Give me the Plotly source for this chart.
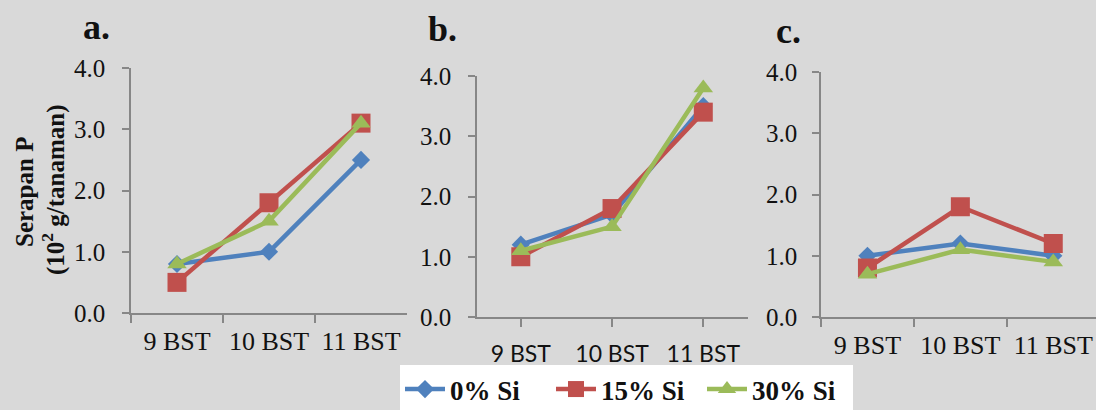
import plotly.graph_objects as go

W, H = 1096, 410
categories = ["9 BST", "10 BST", "11 BST"]
series_names = ["0% Si", "15% Si", "30% Si"]
panel_a = {"0% Si": [0.8, 1.0, 2.5], "15% Si": [0.5, 1.8, 3.1], "30% Si": [0.8, 1.5, 3.1]}
panel_b = {"0% Si": [1.2, 1.7, 3.5], "15% Si": [1.0, 1.8, 3.4], "30% Si": [1.1, 1.5, 3.8]}
panel_c = {"0% Si": [1.0, 1.2, 1.0], "15% Si": [0.8, 1.8, 1.2], "30% Si": [0.7, 1.1, 0.9]}
y_ticks = [0, 1, 2, 3, 4]
y_tick_labels = ["0.0", "1.0", "2.0", "3.0", "4.0"]

colors = {"0% Si": "#4f81bd", "15% Si": "#c0504d", "30% Si": "#9bbb59"}
symbols = {"0% Si": "diamond", "15% Si": "square", "30% Si": "triangle-up"}
sizes = {"0% Si": 14, "15% Si": 19, "30% Si": 17}

def px(x):
    return x / W

def py(y):
    return 1 - y / H

fig = go.Figure()
panels = [panel_a, panel_b, panel_c]
for i, pdata in enumerate(panels):
    sfx = "" if i == 0 else str(i + 1)
    for name in series_names:
        fig.add_trace(go.Scatter(
            x=categories, y=pdata[name], name=name,
            mode="lines+markers",
            line=dict(color=colors[name], width=4.5),
            marker=dict(symbol=symbols[name], size=sizes[name], color=colors[name]),
            xaxis="x" + sfx, yaxis="y" + sfx,
            showlegend=(i == 0),
        ))

serif = "Liberation Serif, Times New Roman, serif"
axcol = "#878787"

common_x = dict(type="category", showline=True, linecolor=axcol, linewidth=1.5,
                ticks="outside", tickcolor=axcol, ticklen=8, tickwidth=1.5,
                showgrid=False, zeroline=False, fixedrange=True)
common_y = dict(range=[0, 4], tickvals=y_ticks, ticktext=y_tick_labels, showline=True,
                linecolor=axcol, linewidth=1.5, ticks="outside", tickcolor=axcol,
                ticklen=7, tickwidth=1.5, showgrid=False, zeroline=False,
                tickfont=dict(family=serif, size=25, color="#111"))

fig.update_layout(
    width=W, height=H, margin=dict(l=0, r=0, t=0, b=0, autoexpand=False),
    paper_bgcolor="#d9d9d9", plot_bgcolor="rgba(0,0,0,0)",
    xaxis=dict(common_x, domain=[px(131), px(407)], range=[-0.5, 2.5], tickson="boundaries",
               anchor="y", tickfont=dict(family=serif, size=26, color="#111"), ticklabelstandoff=4),
    yaxis=dict(common_y, domain=[py(313), py(68)], anchor="x", ticklabelstandoff=12),
    xaxis2=dict(common_x, domain=[px(477), px(748)], range=[-0.48, 2.49],
                anchor="y2", tickfont=dict(family="Lato", size=23, color="#111"), ticklabelstandoff=8),
    yaxis2=dict(common_y, domain=[py(317), py(76)], anchor="x2", ticklabelstandoff=12),
    xaxis3=dict(common_x, domain=[px(821), 1.0], range=[-0.5, 2.46], tickson="boundaries",
                anchor="y3", tickfont=dict(family=serif, size=26, color="#111"), ticklabelstandoff=4),
    yaxis3=dict(common_y, domain=[py(317), py(72)], anchor="x3", ticklabelstandoff=10),
    legend=dict(orientation="h", x=px(400), xanchor="left", y=py(414), yanchor="bottom",
                bgcolor="white", font=dict(family=serif, size=27, color="#111", weight="bold"),
                itemwidth=40, tracegroupgap=0, entrywidth=96, entrywidthmode="pixels"),
    showlegend=True,
)

annots = [
    dict(text="a.", x=px(96), y=py(27)),
    dict(text="b.", x=px(442), y=py(29)),
    dict(text="c.", x=px(788), y=py(31)),
]
for a in annots:
    fig.add_annotation(text=a["text"], x=a["x"], y=a["y"], xref="paper", yref="paper",
                       showarrow=False, xanchor="center", yanchor="middle",
                       font=dict(family=serif, size=36, color="#111", weight="bold"))

fig.add_annotation(text="Serapan P", x=px(24), y=py(192), xref="paper", yref="paper",
                   showarrow=False, textangle=-90, xanchor="center", yanchor="middle",
                   font=dict(family=serif, size=25, color="#111", weight="bold"))
fig.add_annotation(text="(10<sup>2</sup> g/tanaman)", x=px(53), y=py(190), xref="paper", yref="paper",
                   showarrow=False, textangle=-90, xanchor="center", yanchor="middle",
                   font=dict(family=serif, size=25, color="#111", weight="bold"))

fig.write_html("out.html")
